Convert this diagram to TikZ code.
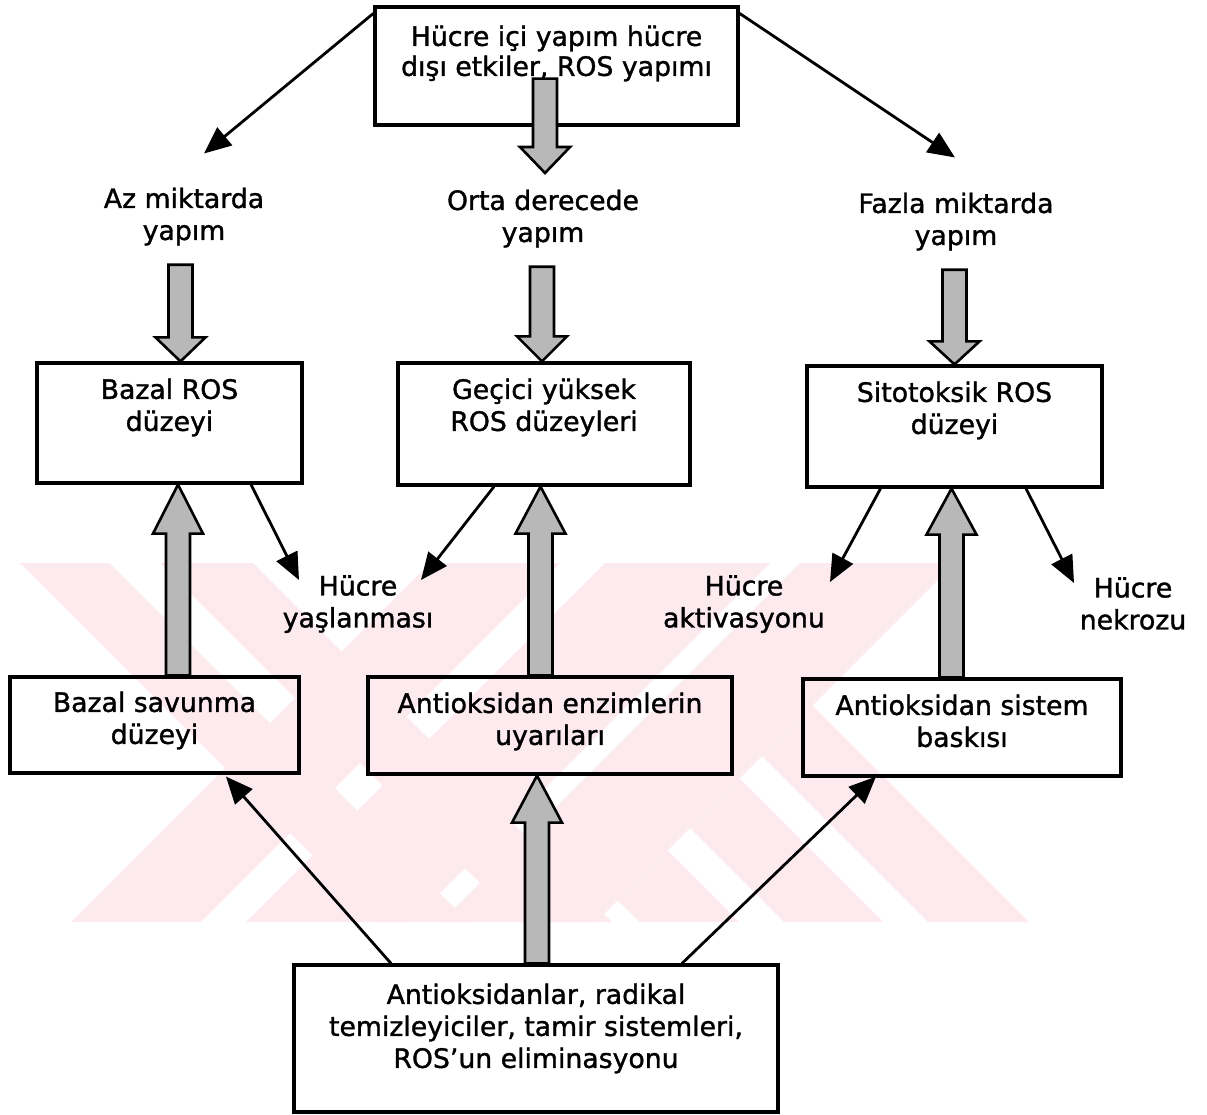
\documentclass[tikz,border=0pt]{standalone}
\usepackage{fontspec}
\setmainfont{DejaVu Sans}[FakeBold=1.3]
\usetikzlibrary{arrows.meta,calc}

\definecolor{wmpink}{RGB}{253,234,238}
\definecolor{arrowgray}{RGB}{184,184,184}

% Wide grey block arrow, vertical: #1 tail, #2 tip, #3 head length
\newcommand\blockarrow[3]{%
  \draw[blockstyle] let \p1=(#1), \p2=(#2), \n1={ifthenelse(\y1>\y2,1,-1)} in
    (\x2-12pt,\y1) -- (\x2-12pt,\y2+\n1*#3) -- (\x2-25pt,\y2+\n1*#3) -- (\x2,\y2)
    -- (\x2+25pt,\y2+\n1*#3) -- (\x2+12pt,\y2+\n1*#3) -- (\x2+12pt,\y1) -- cycle;}

\begin{document}
\begin{tikzpicture}[x=1pt,y=-1pt,
  box/.style={draw, line width=3.2pt, inner sep=0pt},
  txt/.style={font=\fontsize{26.7}{32}\selectfont, align=center, inner sep=0pt},
  thinarrow/.style={line width=2.8pt, -{Triangle[length=27pt,width=23pt]}},
  blockstyle/.style={draw=black, line width=2.6pt, fill=arrowgray, line join=miter}]
\useasboundingbox (0,0) rectangle (1207,1115);

% background stripes
\begin{scope}
  \clip (20,563) rectangle (1030,922);
  \fill[wmpink] (20,563) -- (110,563) -- (469,922) -- (379,922) -- cycle;
  \fill[wmpink] (160,563) -- (253,563) -- (612,922) -- (519,922) -- cycle;
  \fill[wmpink] (430,563) -- (560,563) -- (201,922) -- (71,922) -- cycle;
  \fill[wmpink] (605,563) -- (770,563) -- (411,922) -- (246,922) -- cycle;
  \fill[wmpink] (800,563) -- (955,563) -- (596,922) -- (441,922) -- cycle;
  \begin{scope}
    \clip (955,563) -- (1100,563) -- (1100,922) -- (596,922) -- cycle;
    \fill[wmpink] (280,563) -- (380,563) -- (739,922) -- (639,922) -- cycle;
    \fill[wmpink] (425,563) -- (524,563) -- (883,922) -- (784,922) -- cycle;
    \fill[wmpink] (569,563) -- (670,563) -- (1029,922) -- (928,922) -- cycle;
  \end{scope}
\end{scope}

% boxes
\node[box, minimum width=363pt, minimum height=118pt] (src) at (556.5,66) {};
\node[box, minimum width=265pt, minimum height=120pt] (bazalros) at (169.5,423) {};
\node[box, minimum width=292pt, minimum height=122pt] (gecici) at (544,424) {};
\node[box, minimum width=295pt, minimum height=121pt] (sito) at (954.5,426.5) {};
\node[box, minimum width=289pt, minimum height=96pt] (bazalsav) at (154.5,725) {};
\node[box, minimum width=364pt, minimum height=97pt] (enzim) at (550,725.5) {};
\node[box, minimum width=318pt, minimum height=97pt] (sistem) at (962,727.5) {};
\node[box, minimum width=484pt, minimum height=147pt] (bottom) at (536,1038.5) {};

% box texts
\node[txt, font=\fontsize{26.7}{30}\selectfont, anchor=north] (srcT) at ([shift={(0,20)}]src.north) {Hücre içi yapım hücre\\dışı etkiler, ROS yapımı};
\node[txt, anchor=north] (bazalrosT) at ([shift={(0,17)}]bazalros.north) {Bazal ROS\\düzeyi};
\node[txt, anchor=north] (geciciT) at ([shift={(0,17)}]gecici.north) {Geçici yüksek\\ROS düzeyleri};
\node[txt, anchor=north] (sitoT) at ([shift={(0,17)}]sito.north) {Sitotoksik ROS\\düzeyi};
\node[txt, anchor=north] (bazalsavT) at ([shift={(0,16)}]bazalsav.north) {Bazal savunma\\düzeyi};
\node[txt, anchor=north] (enzimT) at ([shift={(0,17)}]enzim.north) {Antioksidan enzimlerin\\uyarıları};
\node[txt, anchor=north] (sistemT) at ([shift={(0,17)}]sistem.north) {Antioksidan sistem\\baskısı};
\node[txt, anchor=north] (bottomT) at ([shift={(0,20)}]bottom.north) {Antioksidanlar, radikal\\temizleyiciler, tamir sistemleri,\\ROS’un eliminasyonu};

% free labels
\node[txt, anchor=north] (az) at (184,187.5) {Az miktarda\\yapım};
\node[txt, anchor=north] (orta) at (543,189.5) {Orta derecede\\yapım};
\node[txt, anchor=north] (fazla) at (956,192.5) {Fazla miktarda\\yapım};
\node[txt, anchor=north] (yasl) at (358,575) {Hücre\\yaşlanması};
\node[txt, anchor=north] (aktiv) at (744,575) {Hücre\\aktivasyonu};
\node[txt, anchor=north] (nekroz) at (1133,577) {Hücre\\nekrozu};

% block arrows
\blockarrow{[shift={(0,-48)}]src.south}{[shift={(2,-16.5)}]orta.north}{26pt}
\blockarrow{[shift={(0,19)}]az.south}{[shift={(11,0)}]bazalros.north}{24pt}
\blockarrow{[shift={(0,19)}]orta.south}{[shift={(-2,0)}]gecici.north}{25pt}
\blockarrow{[shift={(0,19)}]fazla.south}{sito.north}{23pt}
\blockarrow{bazalsav.north}{[shift={(8.5,0)}]bazalros.south}{49pt}
\blockarrow{enzim.north}{[shift={(-3.5,0)}]gecici.south}{47pt}
\blockarrow{sistem.north}{[shift={(-3,0)}]sito.south}{46pt}
\blockarrow{bottom.north}{[shift={(-13,0)}]enzim.south}{47pt}

% thin arrows
\draw[thinarrow] ([shift={(0,8)}]src.north west) -- ([shift={(20,-34)}]az.north);
\draw[thinarrow] ([shift={(0,8)}]src.north east) -- ([shift={(-1,-35)}]fazla.north);
\draw[thinarrow] ([shift={(81.5,0)}]bazalros.south) -- ([shift={(-59,5)}]yasl.north);
\draw[thinarrow] ([shift={(-50,0)}]gecici.south) -- ([shift={(63,5)}]yasl.north);
\draw[thinarrow] ([shift={(-74,0)}]sito.south) -- ([shift={(86,7)}]aktiv.north);
\draw[thinarrow] ([shift={(71.5,0)}]sito.south) -- ([shift={(-59,6)}]nekroz.north);
\draw[thinarrow] ([shift={(-145,0)}]bottom.north) -- ([shift={(71.5,2)}]bazalsav.south);
\draw[thinarrow] ([shift={(146,0)}]bottom.north) -- ([shift={(-86,-1)}]sistem.south);
\end{tikzpicture}
\end{document}
